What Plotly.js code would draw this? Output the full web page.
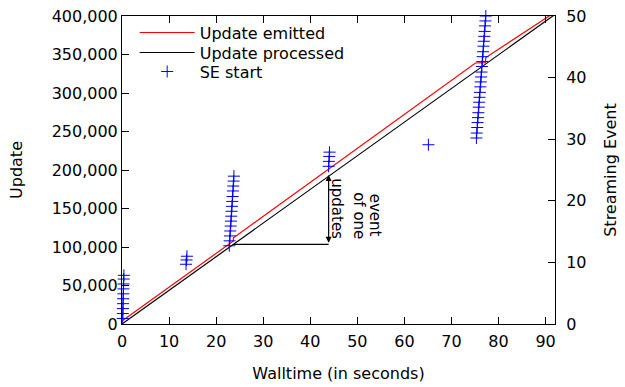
<!DOCTYPE html>
<html>
<head>
<meta charset="utf-8">
<script src="https://cdn.plot.ly/plotly-3.0.1.min.js"></script>
<style>html,body{margin:0;padding:0;background:#fff;}#chart{width:625px;height:387px;}</style>
</head>
<body>
<div id="chart"></div>
<script>
// Update lines (walltime in seconds vs update number)
const emittedTime = [0, 23.6, 23.7, 75.1, 77.2, 77.3, 92];
const emittedUpdate = [4000, 107500, 112000, 339000, 339500, 346000, 405000];
const processedTime = [0, 23.7, 44, 77.2, 92];
const processedUpdate = [0, 103500, 193000, 337500, 402000];

// Streaming event start times (right axis: event number)
const seTime = [
  0.15, 0.18, 0.2, 0.22, 0.25, 0.28, 0.3, 0.33, 0.36, 0.4,
  13.6, 13.7, 13.8,
  22.8, 22.87, 22.94, 23.01, 23.08, 23.15, 23.22, 23.29, 23.36, 23.43, 23.5, 23.57, 23.64, 23.71, 23.78,
  43.9, 43.97, 44.03, 44.1,
  65.1,
  75.3, 75.38, 75.47, 75.55, 75.63, 75.72, 75.8, 75.88, 75.97, 76.05, 76.13, 76.22, 76.3, 76.38, 76.47, 76.55, 76.63, 76.72, 76.8, 76.88, 76.97, 77.05, 77.13, 77.22, 77.3
];
const seEvent = [
  0.9, 1.7, 2.5, 3.3, 4.1, 4.9, 5.7, 6.5, 7.3, 7.9,
  9.7, 10.4, 11.0,
  12.7, 13.5, 14.3, 15.1, 15.9, 16.7, 17.5, 18.3, 19.1, 19.9, 20.7, 21.6, 22.4, 23.2, 24.0,
  25.6, 26.4, 27.2, 27.9,
  29.1,
  30.2, 31.0, 31.9, 32.7, 33.5, 34.3, 35.2, 36.0, 36.8, 37.6, 38.5, 39.3, 40.1, 40.9, 41.8, 42.6, 43.4, 44.2, 45.1, 45.9, 46.7, 47.5, 48.4, 49.2, 50.0
];

// Annotation: updates of one event
const bracketStart = [23.7, 103500];
const bracketEnd = [43.9, 103500];
const bracketTop = [43.9, 193500];
const annoLines = ['updates', 'of one', 'event'];
const annoX = [45.6, 50.2, 53.8];
const annoY = [149500, 141000, 141700];

const xTickVals = [0, 10, 20, 30, 40, 50, 60, 70, 80, 90];
const yTickVals = [0, 50000, 100000, 150000, 200000, 250000, 300000, 350000, 400000];
const y2TickVals = [0, 10, 20, 30, 40, 50];

const FONT = 'DejaVu Sans, sans-serif';

const traces = [
  {x: emittedTime, y: emittedUpdate, name: 'Update emitted', mode: 'lines', legend: 'legend',
   line: {color: '#ff0000', width: 1.2}, xaxis: 'x', yaxis: 'y'},
  {x: processedTime, y: processedUpdate, name: 'Update processed', mode: 'lines', legend: 'legend2',
   line: {color: '#000000', width: 1.2}, xaxis: 'x', yaxis: 'y'},
  {x: seTime, y: seEvent, name: 'SE start', mode: 'markers', cliponaxis: false, legend: 'legend3',
   marker: {symbol: 'cross-thin', size: 8.6, color: '#0000ff', line: {color: '#0000ff', width: 1}},
   xaxis: 'x', yaxis: 'y2'}
];

const annotations = [
  {x: bracketTop[0], y: bracketTop[1], ax: bracketEnd[0], ay: bracketEnd[1],
   xref: 'x', yref: 'y', axref: 'x', ayref: 'y', text: '', showarrow: true,
   arrowhead: 2, startarrowhead: 2, arrowside: 'end+start', arrowsize: 1, arrowwidth: 1.2, arrowcolor: '#000'}
];
annoLines.forEach((t, i) => annotations.push({
  x: annoX[i], y: annoY[i], xref: 'x', yref: 'y', text: t, showarrow: false,
  textangle: 90, font: {family: FONT, size: 15, color: '#000'}, xanchor: 'center', yanchor: 'middle'
}));

function legendAt(y) {
  return {x: 0.0293, y: y, xanchor: 'left', yanchor: 'top', bgcolor: 'rgba(0,0,0,0)',
          font: {family: FONT, size: 16, color: '#000'}, itemwidth: 55};
}

const layout = {
  width: 625, height: 387,
  margin: {l: 122, r: 70, t: 16, b: 63, pad: 0},
  paper_bgcolor: '#fff', plot_bgcolor: '#fff',
  font: {family: FONT, size: 16, color: '#000'},
  showlegend: true,
  legend: legendAt(1.0013),
  legend2: legendAt(0.9364),
  legend3: legendAt(0.8747),
  xaxis: {range: [0, 92], tickvals: xTickVals, ticks: 'inside', ticklen: 7, tickcolor: '#000',
          showline: true, linecolor: '#000', linewidth: 1, mirror: 'ticks', showgrid: false, zeroline: false,
          ticklabelstandoff: 3,
          title: {text: 'Walltime (in seconds)', font: {size: 16}, standoff: 17}},
  yaxis: {range: [0, 400000], tickvals: yTickVals, tickformat: ',', ticks: 'inside', ticklen: 7, tickcolor: '#000',
          showline: true, linecolor: '#000', linewidth: 1, mirror: true, showgrid: false, zeroline: false,
          title: {text: 'Update', font: {size: 16}, standoff: 25}},
  yaxis2: {range: [0, 50], tickvals: y2TickVals, ticks: 'inside', ticklen: 7, tickcolor: '#000',
           overlaying: 'y', side: 'right', showline: true, linecolor: '#000', showgrid: false, zeroline: false,
           ticklabelstandoff: 7,
           title: {text: 'Streaming Event', font: {size: 16}, standoff: 19}},
  shapes: [
    {type: 'line', xref: 'x', yref: 'y', x0: bracketStart[0], y0: bracketStart[1], x1: bracketEnd[0], y1: bracketEnd[1],
     line: {color: '#000', width: 1.2}}
  ],
  annotations: annotations
};

Plotly.newPlot('chart', traces, layout, {staticPlot: true, displayModeBar: false});
</script>
</body>
</html>
